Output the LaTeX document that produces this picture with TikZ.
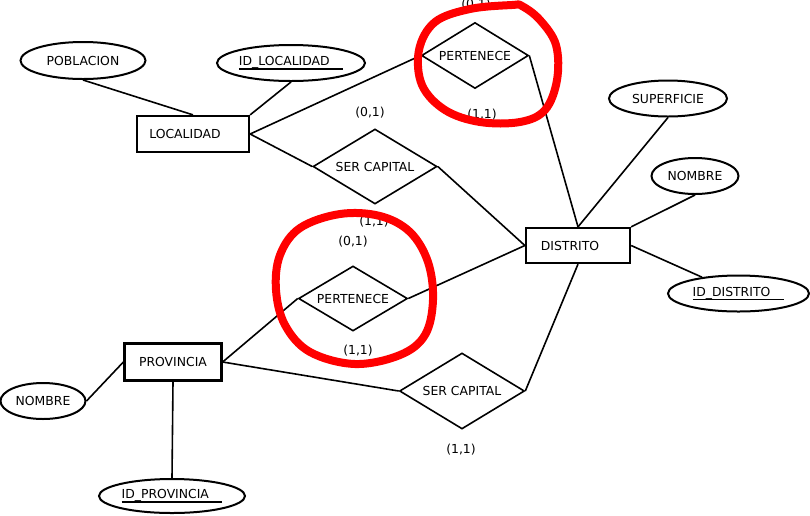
\documentclass[tikz,border=0pt]{standalone}
\usepackage{fontspec}
\setmainfont{DejaVu Sans}
\usetikzlibrary{shapes.geometric}
\newcommand\myul[2]{\setbox0\hbox{#1\kern#2}\rlap{\rule[-3pt]{\wd0}{1.2pt}}\box0}
\tikzset{
  lbl/.style={font=\fontsize{9.3}{11}\selectfont, inner sep=0pt},
  attr/.style={ellipse, draw, line width=1.5pt, inner sep=0pt, font=\fontsize{9.3}{11}\selectfont},
  ent/.style={rectangle, draw, line width=1.7pt, inner sep=0pt, font=\fontsize{9.3}{11}\selectfont},
  rel/.style={diamond, draw, line width=1.2pt, inner sep=0pt, aspect=1.7, font=\fontsize{9.3}{11}\selectfont},
  conn/.style={line width=1.2pt},
  redmark/.style={draw=red, line width=6pt, line join=round}
}
\begin{document}
\begin{tikzpicture}[x=0.75pt,y=-0.75pt]
\useasboundingbox (0,0) rectangle (810,515);
% entities
\node[ent, minimum width=84pt, minimum height=27pt] (loc) at (193,134) {LOCALIDAD\kern12pt};
\node[ent, minimum width=78pt, minimum height=26.25pt] (dis) at (578,245.5) {DISTRITO\kern12pt};
\node[ent, minimum width=72.75pt, minimum height=27.75pt] (prov) at (173,362) {PROVINCIA};
% attributes
\node[attr, minimum width=93.75pt, minimum height=27.75pt] (pob) at (83,60.5) {POBLACION};
\node[attr, minimum width=111pt, minimum height=27pt] (idloc) at (291,63) {\myul{ID\_LOCALIDAD}{10pt}};
\node[attr, minimum width=88.5pt, minimum height=27pt] (sup) at (668,98.5) {SUPERFICIE};
\node[attr, minimum width=65.25pt, minimum height=27pt] (nom2) at (695,176) {NOMBRE};
\node[attr, minimum width=105.75pt, minimum height=27pt] (iddis) at (738.5,293.5) {\myul{ID\_DISTRITO}{10.5pt}};
\node[attr, minimum width=63.75pt, minimum height=27pt] (nom1) at (43,401) {NOMBRE};
\node[attr, minimum width=109.5pt, minimum height=25.5pt] (idprov) at (172,496) {\myul{ID\_PROVINCIA}{10pt}};
% relationships
\node[rel, minimum width=80.25pt, minimum height=49.5pt] (per1) at (475,55.5) {PERTENECE};
\node[rel, minimum width=93pt, minimum height=56.25pt] (ser1) at (375,166.5) {SER CAPITAL};
\node[rel, minimum width=81.75pt, minimum height=48.75pt] (per2) at (353,298.5) {PERTENECE};
\node[rel, minimum width=93.75pt, minimum height=57pt] (ser2) at (462,391) {SER CAPITAL};
% cardinalities
\node[lbl] (c1) at (476,5) {(0,1)};
\node[lbl] (c2) at (482,115) {(1,1)};
\node[lbl] (c3) at (370,113) {(0,1)};
\node[lbl] (c4) at (374,222) {(1,1)};
\node[lbl] (c5) at (353,242) {(0,1)};
\node[lbl] (c6) at (358,351) {(1,1)};
\node[lbl] (c7) at (461,450) {(1,1)};
% connectors
\draw[conn] (pob.south) -- (loc.north);
\draw[conn] (idloc.south) -- (loc.north east);
\draw[conn] (loc.east) -- (per1.west);
\draw[conn] (loc.east) -- (ser1.west);
\draw[conn] (per1.east) -- (dis.north);
\draw[conn] (ser1.east) -- (dis.west);
\draw[conn] (sup.south) -- (dis.north);
\draw[conn] (nom2.south) -- (dis.north east);
\draw[conn] (dis.east) -- (iddis);
\draw[conn] (dis.west) -- (per2.east);
\draw[conn] (per2.west) -- (prov.east);
\draw[conn] (prov.east) -- (ser2.west);
\draw[conn] (ser2.east) -- (dis.south);
\draw[conn] (prov.west) -- (nom1.east);
\draw[conn] (prov.south) -- (idprov.north);
% red hand-drawn marks
\draw[redmark] plot[smooth cycle, tension=0.6] coordinates {(512,5) (470,9) (435,22) (419,50) (422,85) (445,110) (480,122) (520,122) (545,110) (557,80) (556,45) (540,20) (522,6)};
\draw[redmark] plot[smooth cycle, tension=0.6] coordinates {(340,214) (300,228) (280,255) (276,290) (285,325) (310,352) (355,364) (400,355) (425,335) (433,300) (428,262) (410,232) (380,216)};
\end{tikzpicture}
\end{document}
